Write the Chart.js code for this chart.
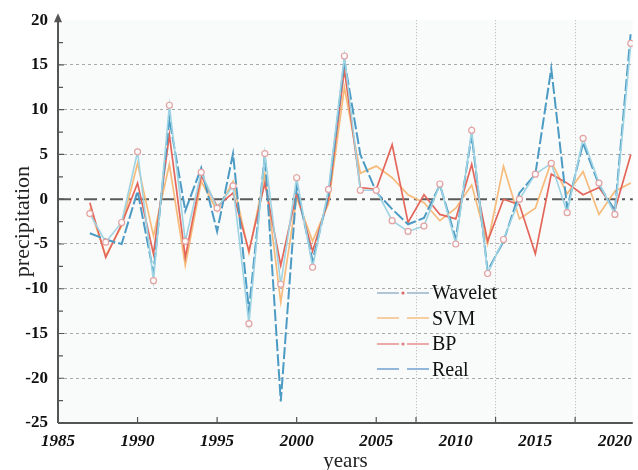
<!DOCTYPE html>
<html>
<head>
<meta charset="utf-8">
<script src="https://cdn.jsdelivr.net/npm/chart.js@4.4.1/dist/chart.umd.min.js"></script>
<style>
  html, body { margin: 0; padding: 0; background: #fff; }
  #wrap { position: relative; width: 638px; height: 470px; }
  #chart { display: block; }
  #legend {
    position: absolute; left: 376px; top: 280px;
    font-family: 'Liberation Serif', 'Times New Roman', serif;
    font-size: 20px; color: #111;
  }
  #legend .row { display: flex; align-items: center; height: 25.5px; }
  #legend svg { width: 54px; height: 20px; margin-right: 2px; }
</style>
</head>
<body>
<div id="wrap">
  <canvas id="chart" width="638" height="470"></canvas>
  <div id="legend"></div>
</div>
<script>
const years = [1987, 1988, 1989, 1990, 1991, 1992, 1993, 1994, 1995, 1996, 1997, 1998,
    1999, 2000, 2001, 2002, 2003, 2004, 2005, 2006, 2007, 2008, 2009, 2010, 2011,
    2012, 2013, 2014, 2015, 2016, 2017, 2018, 2019, 2020, 2021];

const realValues = [-3.8, -4.5, -5.0, 0.9, -8.2, 9.0, -1.3, 3.5, -3.6, 5.1, -12.4, 5.0,
    -22.6, 1.4, -6.9, 0.5, 15.5, 5.0, 0.8, -1.1, -2.8, -2.1, 1.6, -4.4, 7.2,
    -8.0, -4.7, 0.7, 2.8, 14.6, -1.0, 6.3, 1.6, -1.3, 18.7];

const waveletValues = [-1.6, -4.8, -2.6, 5.3, -9.1, 10.5, -4.7, 3.0, -1.0, 1.5, -13.9, 5.1,
    -9.5, 2.4, -7.6, 1.1, 16.0, 1.0, 1.0, -2.4, -3.6, -3.0, 1.7, -5.0, 7.7,
    -8.3, -4.5, 0.0, 2.8, 4.0, -1.5, 6.8, 1.8, -1.7, 17.4];

const svmValues = [-1.0, -6.3, -3.0, 4.0, -4.1, 3.9, -7.4, 2.0, -1.3, 2.0, -6.0, 2.8,
    -11.5, 0.2, -4.7, -0.5, 12.5, 2.9, 3.7, 2.4, 0.5, -0.4, -2.4, -1.0, 1.6,
    -5.0, 3.7, -2.2, -1.0, 4.2, 0.6, 3.1, -1.7, 0.9, 1.8];

const bpValues = [-0.4, -6.5, -2.8, 1.8, -6.1, 7.2, -6.5, 2.6, -0.8, 0.7, -5.8, 1.8,
    -7.4, 0.7, -5.8, 0.0, 14.5, 1.3, 1.1, 6.1, -2.6, 0.5, -1.7, -2.2, 3.9,
    -4.7, 0.0, -0.6, -6.1, 2.8, 1.8, 0.5, 1.3, -1.2, 5.0];

const xTickLabels = [1985, 1990, 1995, 2000, 2005, 2010, 2015, 2020];
const xGridValues = [2007.5, 2012.5, 2017.5];
const xTickMarks = [1990, 1995, 2000, 2005, 2007.5, 2012.5, 2017.5];
const yTickLabels = [-25, -20, -15, -10, -5, 0, 5, 10, 15, 20];

const COLORS = {
    wavelet: '#9dd3e2',
    waveletPoint: '#e3a1a1',
    svm: '#f6bb7a',
    bp: '#e4665a',
    real: '#4c9bc4',
    axis: '#555'
};

const SERIF = "'Liberation Serif', 'Times New Roman', serif";

function toPoints(values) {
    return years.map((yr, i) => ({ x: yr, y: values[i] }));
}

const plotDecor = {
    id: 'plotDecor',
    beforeDraw(chart) {
        const { ctx, chartArea: a } = chart;
        ctx.save();
        ctx.fillStyle = '#f9fafa';
        ctx.fillRect(a.left, a.top, a.right - a.left, a.bottom - a.top);
        ctx.restore();
    },
    beforeDatasetsDraw(chart) {
        const { ctx, chartArea: a, scales } = chart;
        const y0 = scales.y.getPixelForValue(0);
        ctx.save();
        ctx.strokeStyle = '#5a5a5a';
        ctx.lineWidth = 2;
        ctx.setLineDash([13, 5, 3, 5]);
        ctx.beginPath();
        ctx.moveTo(a.left, y0);
        ctx.lineTo(a.right, y0);
        ctx.stroke();
        ctx.restore();
    },
    afterDraw(chart) {
        const { ctx, chartArea: a, scales } = chart;
        ctx.save();
        ctx.strokeStyle = COLORS.axis;
        ctx.fillStyle = COLORS.axis;
        ctx.lineWidth = 2;

        // axes
        ctx.beginPath();
        ctx.moveTo(a.left, a.bottom);
        ctx.lineTo(a.right, a.bottom);
        ctx.moveTo(a.left, a.bottom);
        ctx.lineTo(a.left, a.top - 4);
        ctx.stroke();

        // arrow on the y axis
        ctx.beginPath();
        ctx.moveTo(a.left, a.top - 7);
        ctx.lineTo(a.left - 4, a.top + 2);
        ctx.lineTo(a.left + 4, a.top + 2);
        ctx.closePath();
        ctx.fill();

        // inner ticks
        ctx.lineWidth = 1.2;
        ctx.beginPath();
        for (let v = -25; v <= 17.5; v += 2.5) {
            const py = scales.y.getPixelForValue(v);
            ctx.moveTo(a.left, py);
            ctx.lineTo(a.left + (v % 5 === 0 ? 6 : 5), py);
        }
        xTickMarks.forEach(v => {
            const px = scales.x.getPixelForValue(v);
            ctx.moveTo(px, a.bottom);
            ctx.lineTo(px, a.bottom - 6);
        });
        ctx.stroke();
        ctx.restore();
    }
};

new Chart(document.getElementById('chart'), {
    type: 'line',
    data: {
        datasets: [
            {
                label: 'Wavelet',
                data: toPoints(waveletValues),
                borderColor: COLORS.wavelet,
                borderWidth: 1.6,
                pointRadius: 3,
                pointBorderWidth: 1.2,
                pointBorderColor: COLORS.waveletPoint,
                pointBackgroundColor: '#fbfbfb'
            },
            {
                label: 'Real',
                data: toPoints(realValues),
                borderColor: COLORS.real,
                borderWidth: 2,
                borderDash: [12, 3],
                pointRadius: 0
            },
            {
                label: 'BP',
                data: toPoints(bpValues),
                borderColor: COLORS.bp,
                borderWidth: 1.7,
                pointRadius: 0
            },
            {
                label: 'SVM',
                data: toPoints(svmValues),
                borderColor: COLORS.svm,
                borderWidth: 1.7,
                pointRadius: 0
            }
        ]
    },
    options: {
        responsive: false,
        animation: false,
        layout: { padding: { top: 18, right: 2, left: 0, bottom: 0 } },
        plugins: {
            legend: { display: false },
            tooltip: { enabled: false }
        },
        scales: {
            x: {
                type: 'linear',
                min: 1985,
                max: 2021.125,
                afterFit: scale => { scale.height = 47; },
                afterBuildTicks: scale => {
                    scale.ticks = xTickLabels.concat(xGridValues).map(v => ({ value: v }));
                },
                border: { display: false, dash: [1, 2] },
                grid: {
                    drawTicks: false,
                    lineWidth: 1,
                    color: ctx => xGridValues.includes(ctx.tick && ctx.tick.value) ? '#b5b5b5' : 'rgba(0,0,0,0)'
                },
                ticks: {
                    padding: 8,
                    maxRotation: 0,
                    autoSkip: false,
                    color: '#111',
                    font: { family: SERIF, size: 17, weight: 'bold', style: 'italic' },
                    callback: v => xTickLabels.includes(v) ? String(v) : ''
                },
                title: {
                    display: true,
                    text: 'years',
                    color: '#222',
                    font: { family: SERIF, size: 21 },
                    padding: { top: 0, bottom: -4 }
                }
            },
            y: {
                min: -25,
                max: 20,
                afterFit: scale => { scale.width = 58; },
                afterBuildTicks: scale => {
                    scale.ticks = yTickLabels.map(v => ({ value: v }));
                },
                border: { display: false, dash: [3, 3] },
                grid: {
                    drawTicks: false,
                    lineWidth: 1,
                    color: ctx => {
                        const v = ctx.tick && ctx.tick.value;
                        return (v === 0 || v === 20 || v === -25) ? 'rgba(0,0,0,0)' : '#a8a8a8';
                    }
                },
                ticks: {
                    padding: 10,
                    color: '#111',
                    font: { family: SERIF, size: 17, weight: 'bold' }
                },
                title: {
                    display: true,
                    text: 'precipitation',
                    color: '#222',
                    font: { family: SERIF, size: 22 },
                    padding: { top: 10, bottom: 0 }
                }
            }
        }
    },
    plugins: [plotDecor]
});

// legend in the plot, drawn as html rows
const legendRows = [
    { name: 'Wavelet', color: '#a7c0d2', dash: '', marker: '#d96a6a' },
    { name: 'SVM', color: '#f7c998', dash: '', marker: null },
    { name: 'BP', color: '#eda0a0', dash: '', marker: '#e08080' },
    { name: 'Real', color: '#86afd6', dash: '', marker: null }
];

document.getElementById('legend').innerHTML = legendRows.map(r => {
    const dot = r.marker
        ? `<circle cx="27" cy="10" r="1.6" fill="${r.marker}"/>`
        : '';
    return `<div class="row"><svg viewBox="0 0 54 20">
        <line x1="1" y1="10" x2="23" y2="10" stroke="${r.color}" stroke-width="1.8"/>
        <line x1="31" y1="10" x2="53" y2="10" stroke="${r.color}" stroke-width="1.8"/>
        ${dot}</svg><span>${r.name}</span></div>`;
}).join('');
</script>
</body>
</html>
